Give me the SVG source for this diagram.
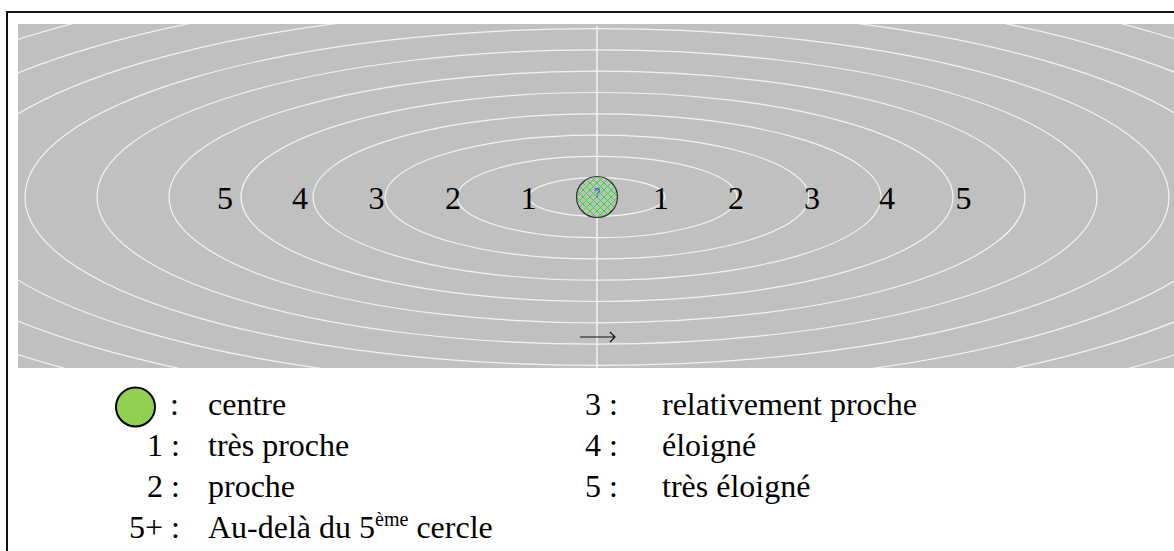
<svg xmlns="http://www.w3.org/2000/svg" width="1174" height="551" viewBox="0 0 1174 551">
<style>
.ring{fill:none;stroke:#f4f4f4;stroke-width:1.2}
.lbl{font-family:"Liberation Serif","Times New Roman",serif;font-size:32px;fill:#000}
.lgd{font-family:"Liberation Serif","Times New Roman",serif;font-size:32px;fill:#000}
</style>
<defs>
<clipPath id="area"><rect x="18" y="24" width="1156" height="344"/></clipPath>
<pattern id="hatch" patternUnits="userSpaceOnUse" width="7" height="7" x="597" y="197">
<rect width="7" height="7" fill="#c0c0c0"/>
<path d="M0,0 L7,7 M7,0 L0,7" stroke="#22e022" stroke-width="1"/>
</pattern>
</defs>
<rect width="1174" height="551" fill="#fff"/>
<path d="M7,551 V12 H1174" fill="none" stroke="#111" stroke-width="2"/>
<g id="field">
<rect x="18" y="24" width="1156" height="344" fill="#c0c0c0"/>
<g clip-path="url(#area)">
<ellipse class="ring" cx="597" cy="197" rx="68" ry="19.3"/>
<ellipse class="ring" cx="597" cy="197" rx="140" ry="40.6"/>
<ellipse class="ring" cx="597" cy="197" rx="212" ry="61.9"/>
<ellipse class="ring" cx="597" cy="197" rx="284" ry="83.2"/>
<ellipse class="ring" cx="597" cy="197" rx="356" ry="104.5"/>
<ellipse class="ring" cx="597" cy="197" rx="428" ry="125.8"/>
<ellipse class="ring" cx="597" cy="197" rx="500" ry="147.1"/>
<ellipse class="ring" cx="597" cy="197" rx="572" ry="168.4"/>
<ellipse class="ring" cx="597" cy="197" rx="644" ry="189.7"/>
<ellipse class="ring" cx="597" cy="197" rx="716" ry="211"/>
<ellipse class="ring" cx="597" cy="197" rx="788" ry="232.3"/>
<ellipse class="ring" cx="597" cy="197" rx="860" ry="253.6"/>
<line x1="597" y1="26" x2="597" y2="368" stroke="#f0f0f0" stroke-width="1.5"/>
</g>
</g>
<g id="ring-labels" class="lbl" text-anchor="middle">
<text x="225" y="209">5</text>
<text x="300" y="209">4</text>
<text x="376.5" y="209">3</text>
<text x="453" y="209">2</text>
<text x="528.5" y="209">1</text>
<text x="661" y="209">1</text>
<text x="736" y="209">2</text>
<text x="812" y="209">3</text>
<text x="887" y="209">4</text>
<text x="963.5" y="209">5</text>
</g>
<g id="centre">
<circle cx="597" cy="197" r="20.5" fill="url(#hatch)" stroke="#333" stroke-width="1.2"/>
<text x="597" y="197" text-anchor="middle" font-family="Liberation Sans, Arial, sans-serif" font-size="12" fill="#3050ff">?</text>
</g>
<g id="connectors">
<path d="M580,337 H615 M610,332 L615,337 L610,342" fill="none" stroke="#111" stroke-width="1.2"/>
</g>
<g id="legend" class="lgd">
<circle cx="135.5" cy="407" r="19.5" fill="#92d050" stroke="#000" stroke-width="2"/>
<text x="170" y="415">:</text>
<text x="208" y="415">centre</text>
<text x="180" y="456" text-anchor="end">1 :</text>
<text x="208" y="456">très proche</text>
<text x="180" y="497" text-anchor="end">2 :</text>
<text x="208" y="497">proche</text>
<text x="180" y="538" text-anchor="end">5+ :</text>
<text x="208" y="538">Au-delà du 5<tspan font-size="20" dy="-12">ème</tspan><tspan dy="12"> cercle</tspan></text>
<text x="585" y="415">3 :</text>
<text x="662" y="415">relativement proche</text>
<text x="585" y="456">4 :</text>
<text x="662" y="456">éloigné</text>
<text x="585" y="497">5 :</text>
<text x="662" y="497">très éloigné</text>
</g>
</svg>
